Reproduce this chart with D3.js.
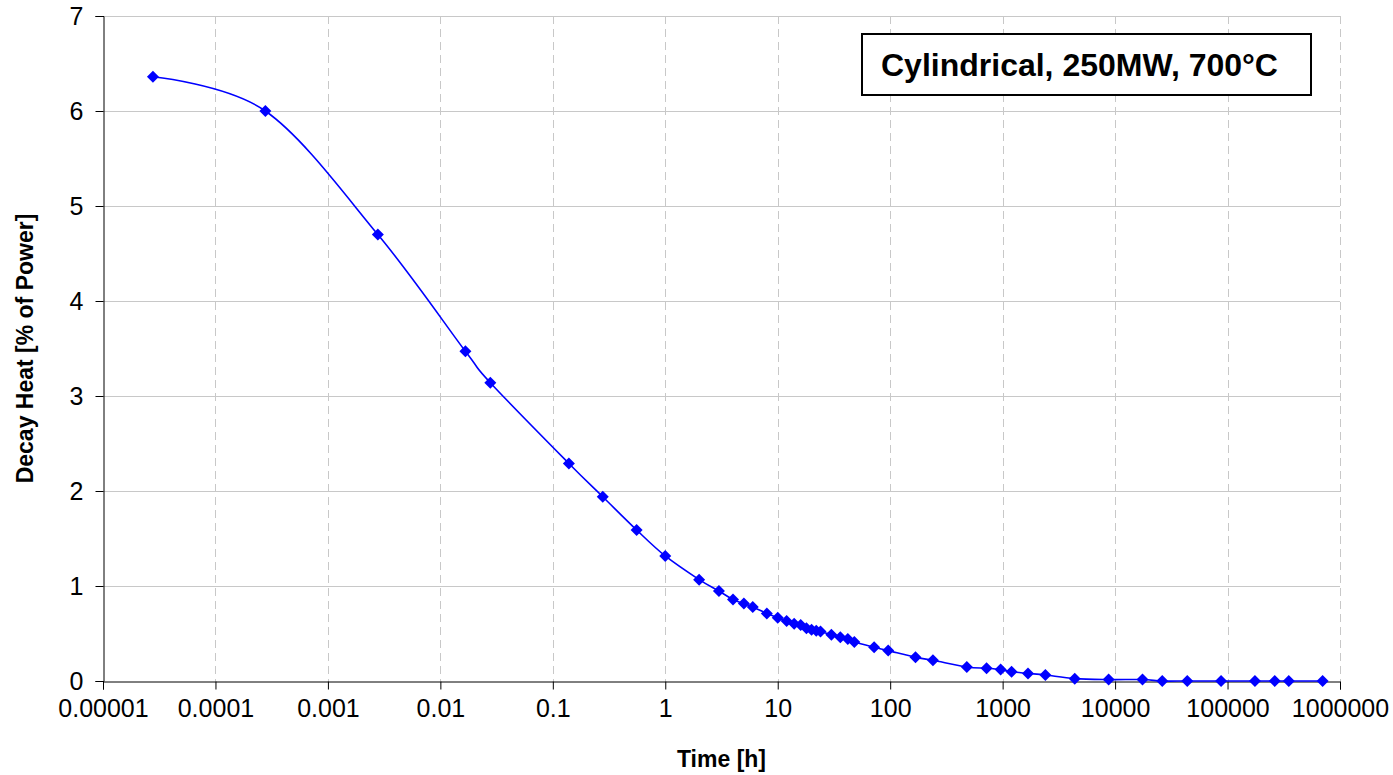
<!DOCTYPE html>
<html lang="en">
<head>
    <meta charset="UTF-8">
    <title>Decay Heat - Cylindrical, 250MW, 700°C</title>
    <style>
        body {
            margin: 0;
            padding: 0;
            background: #ffffff;
            font-family: "Liberation Sans", Arial, sans-serif;
            overflow: hidden;
        }
        #chart {
            width: 1393px;
            height: 775px;
        }
    </style>
    <script src="https://d3js.org/d3.v7.min.js"></script>
</head>
<body>
    <div id="chart"></div>

    <script>
        // Time after shutdown [h] and decay heat [% of power]
        const timeHours = [
            0.0000278, 0.000278, 0.00278, 0.0167, 0.0278, 0.139, 0.278, 0.556,
            1, 2, 3, 4, 5, 6, 8, 10, 12, 14, 16, 18, 20, 22, 24, 30, 36, 42, 48,
            72, 96, 168, 240, 480, 720, 960, 1200, 1680, 2400, 4380, 8760,
            17520, 26280, 43800, 87600, 175200, 262800, 350400, 700800
        ];
        const decayHeat = [
            6.36, 6.00, 4.70, 3.47, 3.14, 2.29, 1.94, 1.59,
            1.316, 1.067, 0.947, 0.857, 0.815, 0.78, 0.71, 0.667, 0.632, 0.602, 0.59, 0.555, 0.54, 0.528, 0.522, 0.488, 0.46, 0.442, 0.41,
            0.355, 0.32, 0.249, 0.218, 0.147, 0.134, 0.12, 0.097, 0.08, 0.063, 0.025, 0.015,
            0.015, 0, 0, 0, 0, 0, 0, 0
        ];

        const xTicks = [1e-5, 1e-4, 1e-3, 1e-2, 1e-1, 1, 10, 100, 1000, 10000, 100000, 1000000];
        const xTickLabels = ["0.00001", "0.0001", "0.001", "0.01", "0.1", "1", "10", "100", "1000", "10000", "100000", "1000000"];
        const yTicks = [0, 1, 2, 3, 4, 5, 6, 7];

        const titleText = "Cylindrical, 250MW, 700°C";
        const xTitle = "Time [h]";
        const yTitle = "Decay Heat [% of Power]";

        const data = timeHours.map((t, i) => ({ t: t, v: decayHeat[i] }));

        const width = 1393;
        const height = 775;
        const margin = { top: 16, right: 53, bottom: 94, left: 103 };

        const svg = d3.select("#chart")
            .append("svg")
            .attr("width", width)
            .attr("height", height);

        const x = d3.scaleLog()
            .domain([1e-5, 1e6])
            .range([margin.left, width - margin.right]);

        const y = d3.scaleLinear()
            .domain([0, 7])
            .range([height - margin.bottom, margin.top]);

        const crisp = v => Math.round(v) + 0.5;

        // horizontal grid (solid)
        svg.append("g")
            .selectAll("line")
            .data(yTicks.filter(d => d > 0))
            .join("line")
            .attr("x1", x.range()[0])
            .attr("x2", x.range()[1])
            .attr("y1", d => crisp(y(d)))
            .attr("y2", d => crisp(y(d)))
            .attr("stroke", "#c8c8c8")
            .attr("stroke-width", 1);

        // vertical grid (dashed)
        svg.append("g")
            .selectAll("line")
            .data(xTicks.slice(1))
            .join("line")
            .attr("x1", d => crisp(x(d)))
            .attr("x2", d => crisp(x(d)))
            .attr("y1", y.range()[1])
            .attr("y2", y.range()[0])
            .attr("stroke", "#c8c8c8")
            .attr("stroke-width", 1)
            .attr("stroke-dasharray", "8,5");

        // y axis
        const yAxis = d3.axisLeft(y)
            .tickValues(yTicks)
            .tickSize(8)
            .tickPadding(12)
            .tickFormat(d3.format("d"));

        svg.append("g")
            .attr("transform", `translate(${crisp(x.range()[0])},0)`)
            .call(yAxis)
            .call(g => g.select(".domain").attr("stroke", "#000"))
            .call(g => g.selectAll(".tick line").attr("stroke", "#000"))
            .call(g => g.selectAll(".tick text")
                .attr("font-family", "'Liberation Sans', Arial, sans-serif")
                .attr("font-size", 25)
                .attr("fill", "#000"));

        // x axis
        const xAxis = d3.axisBottom(x)
            .tickValues(xTicks)
            .tickSize(8)
            .tickPadding(10)
            .tickFormat((d, i) => xTickLabels[i]);

        svg.append("g")
            .attr("transform", `translate(0,${crisp(y.range()[0])})`)
            .call(xAxis)
            .call(g => g.select(".domain").attr("stroke", "#000"))
            .call(g => g.selectAll(".tick line").attr("stroke", "#000"))
            .call(g => g.selectAll(".tick text")
                .attr("font-family", "'Liberation Sans', Arial, sans-serif")
                .attr("font-size", 25)
                .attr("fill", "#000"));

        // axis titles
        svg.append("text")
            .attr("x", (x.range()[0] + x.range()[1]) / 2)
            .attr("y", 767)
            .attr("text-anchor", "middle")
            .attr("font-size", 23)
            .attr("font-weight", "bold")
            .text(xTitle);

        svg.append("text")
            .attr("transform", `translate(33,${(y.range()[0] + y.range()[1]) / 2}) rotate(-90)`)
            .attr("text-anchor", "middle")
            .attr("font-size", 23)
            .attr("font-weight", "bold")
            .text(yTitle);

        // smoothed series line
        const line = d3.line()
            .x(d => x(d.t))
            .y(d => y(d.v))
            .curve(d3.curveCardinal.tension(0));

        svg.append("path")
            .datum(data)
            .attr("fill", "none")
            .attr("stroke", "#0000ff")
            .attr("stroke-width", 1.6)
            .attr("d", line);

        // diamond markers
        svg.append("g")
            .selectAll("path")
            .data(data)
            .join("path")
            .attr("transform", d => `translate(${x(d.t)},${y(d.v)})`)
            .attr("d", "M0,-6L6,0L0,6L-6,0Z")
            .attr("fill", "#0000ff");

        // title box
        const box = svg.append("g").attr("transform", "translate(862,34)");
        box.append("rect")
            .attr("width", 449)
            .attr("height", 61)
            .attr("fill", "#fff")
            .attr("stroke", "#000")
            .attr("stroke-width", 2);
        box.append("text")
            .attr("x", 19)
            .attr("y", 42)
            .attr("font-size", 32)
            .attr("font-weight", "bold")
            .text(titleText);
    </script>
</body>
</html>
